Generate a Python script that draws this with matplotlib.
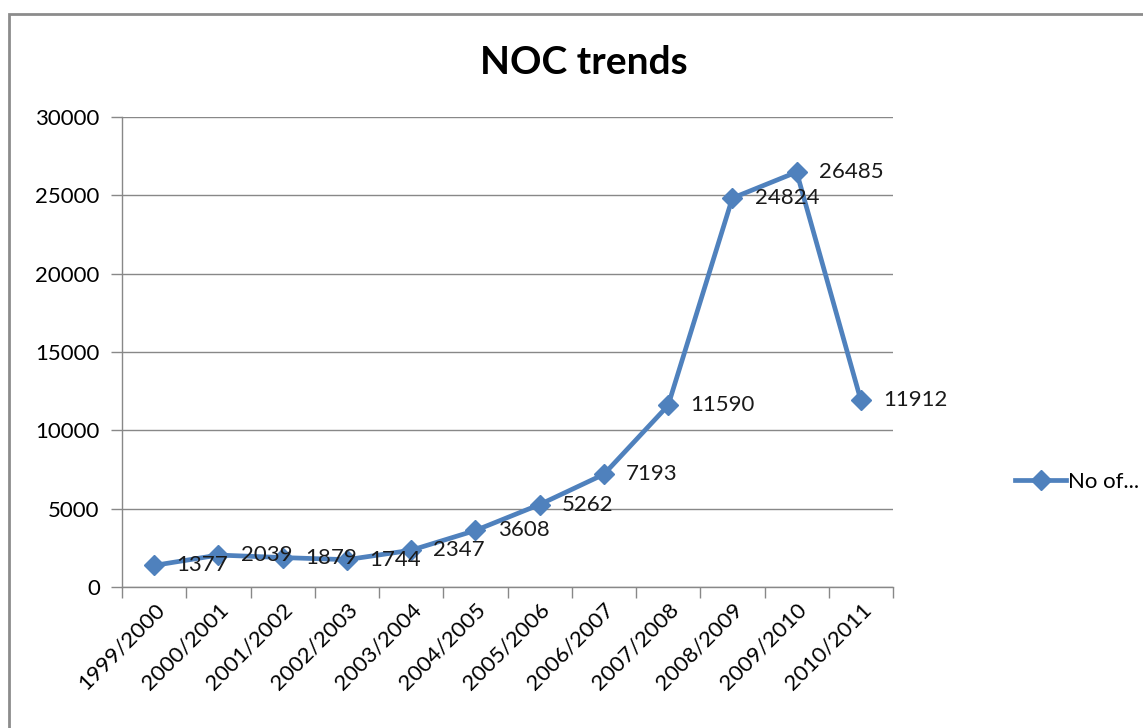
import matplotlib.pyplot as plt
from matplotlib import patches
import numpy as np

years = ["1999/2000", "2000/2001", "2001/2002", "2002/2003", "2003/2004",
         "2004/2005", "2005/2006", "2006/2007", "2007/2008", "2008/2009",
         "2009/2010", "2010/2011"]
noc_counts = [1377, 2039, 1879, 1744, 2347, 3608, 5262, 7193, 11590, 24824,
              26485, 11912]
y_ticks = [0, 5000, 10000, 15000, 20000, 25000, 30000]
series_name = "No of..."

BLUE = "#4F81BD"
GRID = "#888888"
W, H = 1143, 728
FS = 16

plt.rcParams["font.family"] = ["Lato", "DejaVu Sans"]

fig = plt.figure(figsize=(W / 100, H / 100), dpi=100)

# outer chart frame (right and bottom edges run off the canvas)
fig.patches.append(patches.Rectangle((9 / W, -0.05), 1.2, 1 - 14 / H + 0.05,
                                     transform=fig.transFigure, fill=False,
                                     edgecolor="#8c8c8c", linewidth=2))

ax = fig.add_axes([122 / W, (H - 587) / H, (893 - 122) / W, (587 - 117) / H])

x = np.arange(len(years))
line, = ax.plot(x, noc_counts, color=BLUE, linewidth=3.4, marker="D",
                markersize=10.5, label=series_name, zorder=3)

for xi, v in zip(x, noc_counts):
    ax.annotate(str(v), (xi, v), xytext=(16, 0), textcoords="offset points",
                ha="left", va="center", fontsize=FS, color="#1a1a1a", zorder=4)

ax.set_xlim(-0.5, len(years) - 0.5)
ax.set_ylim(0, 30000)
ax.set_yticks(y_ticks)
ax.set_yticklabels([str(t) for t in y_ticks])
ax.yaxis.grid(True, color=GRID, linewidth=1)
ax.set_axisbelow(True)

# category labels at centres, tick marks at boundaries
ax.set_xticks(x)
ax.set_xticklabels(years, rotation=45, ha="right", rotation_mode="anchor")
ax.set_xticks(np.arange(-0.5, len(years)), minor=True)
ax.tick_params(axis="x", which="major", length=0, pad=9, labelsize=FS)
ax.tick_params(axis="x", which="minor", length=8, color=GRID, width=1)
ax.tick_params(axis="y", length=8, color=GRID, width=1, labelsize=FS, pad=8)

for side in ("top", "right"):
    ax.spines[side].set_visible(False)
for side in ("left", "bottom"):
    ax.spines[side].set_color(GRID)
    ax.spines[side].set_linewidth(1)

fig.text(584 / W, 1 - 62 / H, "NOC trends", ha="center", va="center",
         fontsize=28, fontweight="bold")

fig.legend(handles=[line], loc="center left",
           bbox_to_anchor=(1015 / W, 1 - 482 / H), frameon=False,
           fontsize=FS, handlelength=2.3, handletextpad=0.1,
           borderaxespad=0, borderpad=0)

fig.savefig("out.png", dpi=100)
